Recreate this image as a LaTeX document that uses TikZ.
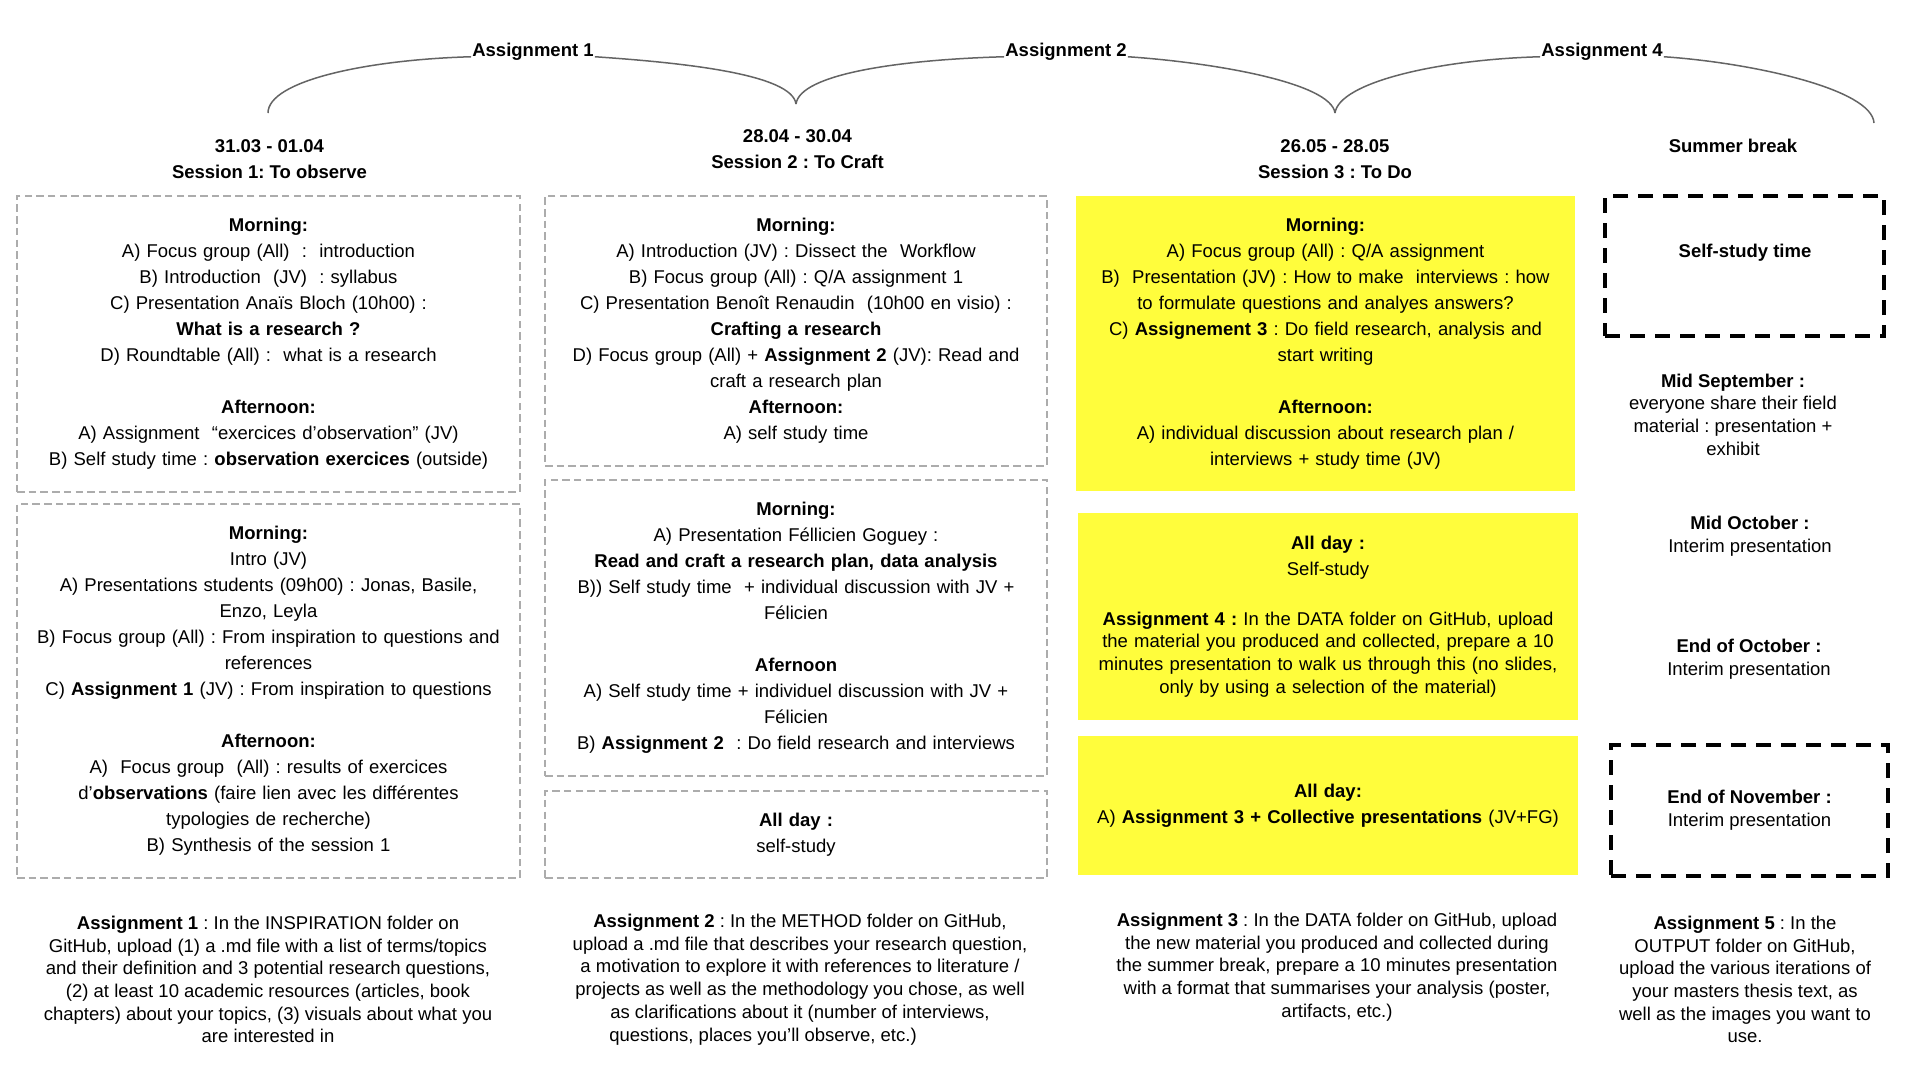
\documentclass[tikz,border=0pt]{standalone}
\usepackage{fontspec}
\setmainfont{Liberation Sans}
\usepackage{xcolor}

\definecolor{noteyellow}{RGB}{255,253,60}
\definecolor{boxgray}{RGB}{172,172,172}
\definecolor{bracegray}{RGB}{100,100,100}

\begin{document}
\frenchspacing
\begin{tikzpicture}[x=1pt,y=-1pt,
    txt/.style={font=\fontsize{18.5}{26}\selectfont, align=center, inner sep=0pt},
    smalltxt/.style={font=\fontsize{18.5}{22.7}\selectfont, align=center, inner sep=0pt},
    boldtxt/.style={txt, font=\fontsize{18.5}{26}\selectfont\bfseries},
    greybox/.style={txt, draw=boxgray, line width=2pt, dash pattern=on 7.5pt off 4.2pt, text width=480pt},
    yellowbox/.style={txt, fill=noteyellow, text width=480pt},
    blackbox/.style={draw=black, line width=4.5pt, dash pattern=on 15pt off 10pt, inner sep=0pt, align=center},
    brace/.style={draw=bracegray, line width=1.5pt}
]
    % Fond blanc et taille de la page
    \useasboundingbox[fill=white] (0,0) rectangle (1920,1079);

    % Accolades des assignments en haut
    \node[boldtxt, inner sep=1pt] (asg1) at (533,52) {Assignment 1};
    \node[boldtxt, inner sep=1pt] (asg2) at (1066,52) {Assignment 2};
    \node[boldtxt, inner sep=1pt] (asg4) at (1602,52) {Assignment 4};
    \coordinate (b1) at (268,113);
    \coordinate (b2) at (796,104);
    \coordinate (b3) at (1335,113);
    \coordinate (b4) at (1874,123);
    \draw[brace] (b1) .. controls +(0,-32) and +(-105,3) .. (asg1.base west);
    \draw[brace] (asg1.base east) .. controls +(88,6) and +(-4,-30) .. (b2);
    \draw[brace] (b2) .. controls +(4,-30) and +(-105,3) .. (asg2.base west);
    \draw[brace] (asg2.base east) .. controls +(88,6) and +(-4,-30) .. (b3);
    \draw[brace] (b3) .. controls +(4,-30) and +(-105,3) .. (asg4.base west);
    \draw[brace] (asg4.base east) .. controls +(88,6) and +(-2,-34) .. (b4);

    % Titres des colonnes
    \node[boldtxt] (head1) at (269.5,159) {31.03 - 01.04\\Session 1: To observe};
    \node[boldtxt] (head2) at (797.5,149) {28.04 - 30.04\\Session 2 : To Craft};
    \node[boldtxt] (head3) at (1335,159) {26.05 - 28.05\\Session 3 : To Do};
    \node[boldtxt] (head4) at (1733,146) {Summer break};

    % Session 1
    \node[greybox, minimum width=503pt, minimum height=296pt] (s1day1) at (268.5,344) {%
        \textbf{Morning:}\\
        A) Focus group (All)~~:~~introduction\\
        B) Introduction~~(JV)~~: syllabus\\
        C) Presentation Anaïs Bloch (10h00) :\\
        \textbf{What is a research ?}\\
        D) Roundtable (All) :~~what is a research\\[26pt]
        \textbf{Afternoon:}\\
        A) Assignment~~“exercices d’observation” (JV)\\
        B) Self study time : \textbf{observation exercices} (outside)};
    \node[greybox, minimum width=503pt, minimum height=374pt] (s1day2) at (268.5,691) {%
        \textbf{Morning:}\\
        Intro (JV)\\
        A) Presentations students (09h00) : Jonas, Basile,\\
        Enzo, Leyla\\
        B) Focus group (All) : From inspiration to questions and\\
        references\\
        C) \textbf{Assignment 1} (JV) : From inspiration to questions\\[26pt]
        \textbf{Afternoon:}\\
        A)~~Focus group~~(All) : results of exercices\\
        d’\textbf{observations} (faire lien avec les différentes\\
        typologies de recherche)\\
        B) Synthesis of the session 1};

    % Session 2
    \node[greybox, minimum width=502pt, minimum height=270pt] (s2day1) at (796,331) {%
        \textbf{Morning:}\\
        A) Introduction (JV) : Dissect the~~Workflow\\
        B) Focus group (All) : Q/A assignment 1\\
        C) Presentation Benoît Renaudin~~(10h00 en visio) :\\
        \textbf{Crafting a research}\\
        D) Focus group (All) + \textbf{Assignment 2} (JV): Read and\\
        craft a research plan\\
        \textbf{Afternoon:}\\
        A) self study time};
    \node[greybox, minimum width=502pt, minimum height=296pt] (s2day2) at (796,628) {%
        \textbf{Morning:}\\
        A) Presentation Féllicien Goguey :\\
        \textbf{Read and craft a research plan, data analysis}\\
        B)) Self study time~~+ individual discussion with JV +\\
        Félicien\\[26pt]
        \textbf{Afernoon}\\
        A) Self study time + individuel discussion with JV +\\
        Félicien\\
        B) \textbf{Assignment 2}~~: Do field research and interviews};
    \node[greybox, minimum width=502pt, minimum height=87pt] (s2day3) at (796,834.5) {%
        \textbf{All day :}\\
        self-study};

    % Session 3
    \node[yellowbox, minimum width=499pt, minimum height=295pt] (s3day1) at (1325.5,343.5) {%
        \textbf{Morning:}\\
        A) Focus group (All) : Q/A assignment\\
        B)~~Presentation (JV) : How to make~~interviews : how\\
        to formulate questions and analyes answers?\\
        C) \textbf{Assignement 3} : Do field research, analysis and\\
        start writing\\[26pt]
        \textbf{Afternoon:}\\
        A) individual discussion about research plan /\\
        interviews + study time (JV)};
    \node[yellowbox, minimum width=500pt, minimum height=207pt] (s3day2) at (1328,616.5) {%
        \textbf{All day :}\\
        Self-study\par\vspace{27pt}
        \fontsize{18.5}{22.7}\selectfont
        \textbf{Assignment 4 :} In the DATA folder on GitHub, upload\\
        the material you produced and collected, prepare a 10\\
        minutes presentation to walk us through this (no slides,\\
        only by using a selection of the material)\par};
    \node[yellowbox, minimum width=500pt, minimum height=139pt] (s3day3) at (1328,805.5) {%
        \textbf{All day:}\\
        A) \textbf{Assignment 3 + Collective presentations} (JV+FG)};

    % Summer break
    \node[blackbox, minimum width=279pt, minimum height=140pt] (selfbox) at (1744.5,266) {};
    \node[boldtxt] (selftime) at (1745,253) {Self-study time};
    \node[smalltxt] (midsep) at (1733,414.5) {\textbf{Mid September :}\\
        everyone share their field\\
        material : presentation +\\
        exhibit};
    \node[smalltxt] (midoct) at (1750,536.5) {\textbf{Mid October :}\\Interim presentation};
    \node[smalltxt] (endoct) at (1749,659.5) {\textbf{End of October :}\\Interim presentation};
    \node[blackbox, smalltxt, minimum width=277pt, minimum height=131pt] (endnov) at (1749.5,810.5)
        {\textbf{End of November :}\\Interim presentation};

    % Consignes des assignments en bas
    \node[smalltxt] (task1) at (268,979.5) {\textbf{Assignment 1} : In the INSPIRATION folder on\\
        GitHub, upload (1) a .md file with a list of terms/topics\\
        and their definition and 3 potential research questions,\\
        (2) at least 10 academic resources (articles, book\\
        chapters) about your topics, (3) visuals about what you\\
        are interested in};
    \node[smalltxt] (task2) at (800,979.5) {\textbf{Assignment 2} : In the METHOD folder on GitHub,\\
        upload a .md file that describes your research question,\\
        a motivation to explore it with references to literature /\\
        projects as well as the methodology you chose, as well\\
        as clarifications about it (number of interviews,\\
        questions, places you’ll observe, etc.)\hspace*{74pt}};
    \node[smalltxt] (task3) at (1337,967) {\textbf{Assignment 3} : In the DATA folder on GitHub, upload\\
        the new material you produced and collected during\\
        the summer break, prepare a 10 minutes presentation\\
        with a format that summarises your analysis (poster,\\
        artifacts, etc.)};
    \node[smalltxt] (task5) at (1745,979.5) {\textbf{Assignment 5} : In the\\
        OUTPUT folder on GitHub,\\
        upload the various iterations of\\
        your masters thesis text, as\\
        well as the images you want to\\
        use.};
\end{tikzpicture}
\end{document}
